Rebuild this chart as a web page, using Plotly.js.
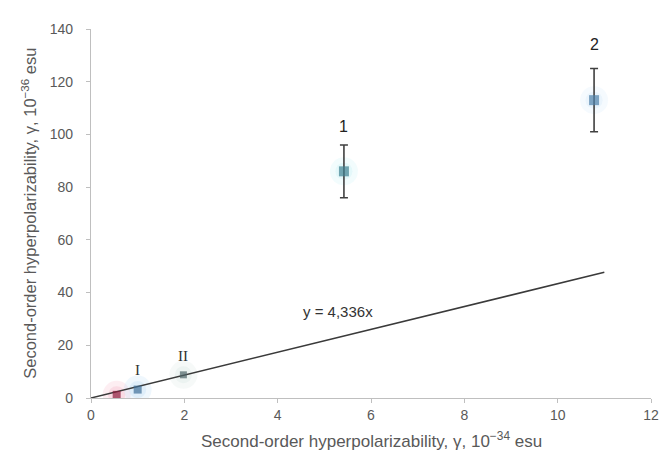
<!DOCTYPE html>
<html>
<head>
<meta charset="utf-8">
<script src="https://cdn.plot.ly/plotly-3.0.1.min.js"></script>
<style>html,body{margin:0;padding:0;background:#fff;}#chart{width:660px;height:461px;}</style>
</head>
<body>
<div id="chart"></div>
<script>
// Data
const pointNames = ["ref", "I", "II", "1", "2"];
const pointX = [0.55, 1.0, 1.98, 5.42, 10.78];
const pointY = [1.2, 3.2, 8.8, 86, 113];
const pointErr = [0, 0, 0, 10, 12];
const pointColors = ["#8c1c3c", "#3f6f98", "#4d6466", "#3d8090", "#4d80aa"];
const glowColors = ["#f5b0c4", "#b8dcf4", "#d4e4e0", "#c4f0f4", "#d0e8fa"];
const trendSlope = 4.336;
const trendX = [0, 11];
const trendY = trendX.map(v => v * trendSlope);
const xTicks = [0, 2, 4, 6, 8, 10, 12];
const yTicks = [0, 20, 40, 60, 80, 100, 120, 140];

const grey = "#595959";
const traces = [
  {
    x: pointX, y: pointY, mode: "markers", type: "scatter",
    marker: {symbol: "circle", size: 28, color: glowColors, opacity: 0.22},
    hoverinfo: "skip", showlegend: false
  },
  {
    x: pointX, y: pointY, mode: "markers", type: "scatter",
    marker: {symbol: "circle", size: 17, color: glowColors, opacity: 0.3},
    hoverinfo: "skip", showlegend: false
  },
  {
    x: trendX, y: trendY, mode: "lines", type: "scatter",
    line: {color: "#3a3a3a", width: 1.5}, hoverinfo: "skip", showlegend: false
  },
  {
    x: pointX.slice(3), y: pointY.slice(3), mode: "markers", type: "scatter",
    marker: {symbol: "square", size: 1, color: "rgba(0,0,0,0)"},
    error_y: {type: "data", array: pointErr.slice(3), visible: true, color: "#404040", thickness: 1.6, width: 4},
    hoverinfo: "skip", showlegend: false
  },
  {
    x: pointX, y: pointY, mode: "markers", type: "scatter",
    marker: {symbol: "square", size: [8, 8, 7, 10, 10], color: pointColors, line: {width: 0}},
    text: pointNames, showlegend: false
  }
];

const sans = "Liberation Sans, Arial, sans-serif";
const annFont = {family: sans, size: 16, color: "#222"};
const serifFont = {family: "Liberation Serif, Times New Roman, serif", size: 15, color: "#333"};
const annotations = [
  {x: pointX[3], y: pointY[3] + pointErr[3] + 7, text: "1", showarrow: false, font: annFont, xref: "x", yref: "y"},
  {x: pointX[4], y: pointY[4] + pointErr[4] + 9, text: "2", showarrow: false, font: annFont, xref: "x", yref: "y"},
  {x: pointX[1], y: pointY[1] + 7.5, text: "I", showarrow: false, font: serifFont, xref: "x", yref: "y"},
  {x: pointX[2], y: pointY[2] + 7, text: "II", showarrow: false, font: serifFont, xref: "x", yref: "y"},
  {x: 5.3, y: 33, text: "y = 4,336x", showarrow: false, xref: "x", yref: "y",
   font: {family: sans, size: 15, color: "#333"}},
  {x: 0.5, y: -0.113, xref: "paper", yref: "paper", xanchor: "center", yanchor: "middle", showarrow: false,
   text: "Second-order hyperpolarizability, γ, 10<sup>−34</sup> esu",
   font: {family: sans, size: 17, color: grey}},
  {x: -0.112, y: 0.5, xref: "paper", yref: "paper", xanchor: "center", yanchor: "middle", showarrow: false,
   textangle: -90,
   text: "Second-order hyperpolarizability, γ, 10<sup>−36</sup> esu",
   font: {family: sans, size: 16.5, color: grey}}
];

const layout = {
  width: 660, height: 461,
  margin: {l: 91, r: 9, t: 29, b: 63},
  paper_bgcolor: "#fff", plot_bgcolor: "#fff",
  font: {family: sans, color: grey, size: 14},
  xaxis: {
    range: [0, 12], tickvals: xTicks, ticktext: xTicks.map(String),
    showgrid: false, zeroline: false, showline: true, linecolor: "#bfbfbf", linewidth: 1.2,
    ticks: "outside", ticklen: 4, tickcolor: "#bfbfbf",
    tickfont: {size: 14, color: grey}
  },
  yaxis: {
    range: [0, 140], tickvals: yTicks, ticktext: yTicks.map(String),
    showgrid: false, zeroline: false, showline: true, linecolor: "#bfbfbf", linewidth: 1.2,
    ticks: "outside", ticklen: 4, tickcolor: "#bfbfbf", ticklabelstandoff: 10,
    tickfont: {size: 14, color: grey}
  },
  annotations: annotations
};

Plotly.newPlot("chart", traces, layout, {staticPlot: true, displayModeBar: false});
</script>
</body>
</html>
